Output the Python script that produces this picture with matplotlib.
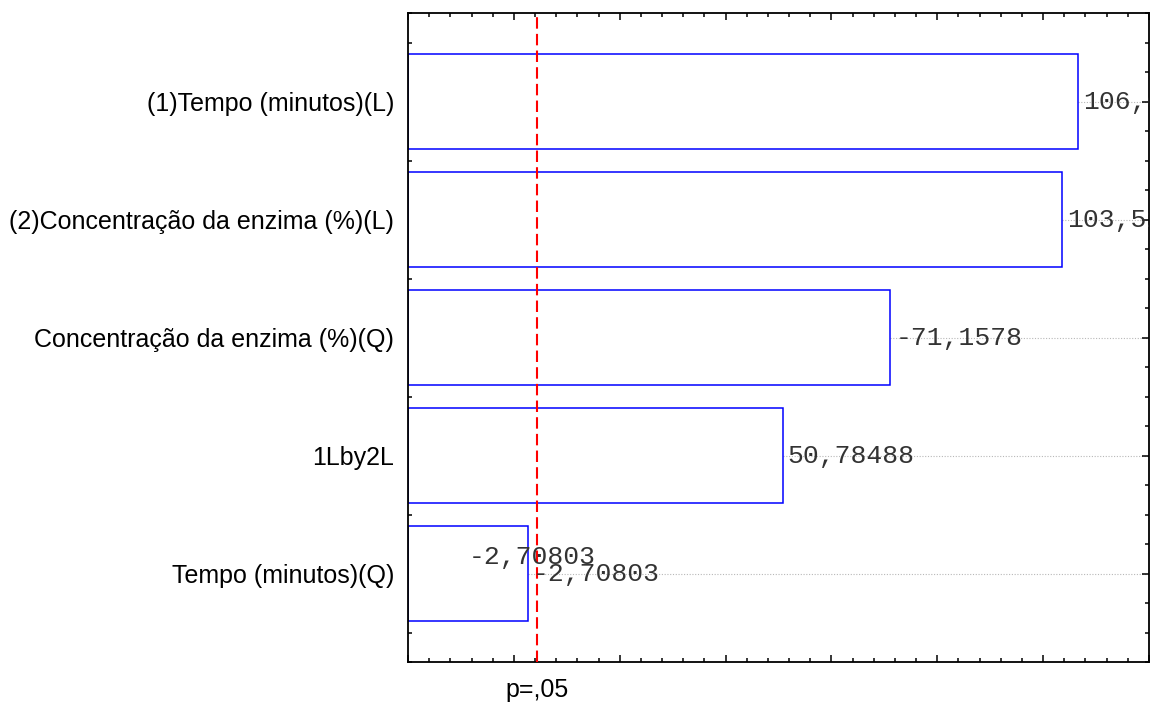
import matplotlib
matplotlib.use("Agg")
import matplotlib.pyplot as plt
from matplotlib.ticker import MultipleLocator
from matplotlib.transforms import blended_transform_factory

categories = [
    "(1)Tempo (minutos)(L)",
    "(2)Concentração da enzima (%)(L)",
    "Concentração da enzima (%)(Q)",
    "1Lby2L",
    "Tempo (minutos)(Q)",
]
effects = [106.6124, 103.5291, -71.1578, 50.78488, -2.70803]
p_critical = 4.303
p_label = "p=,05"
x_min, x_max = -20, 120

fig = plt.figure(figsize=(11.54, 7.06), dpi=100)
ax = fig.add_axes([0.35355, 0.06232, 0.64212, 0.91926])

ypos = list(range(len(categories)))
widths = [abs(v) - x_min for v in effects]
ax.barh(ypos, widths, left=x_min, height=0.8, color="white",
        edgecolor="#0000ff", linewidth=1.1, zorder=2)

mono = "Liberation Mono"
for y, v in zip(ypos, effects):
    end = abs(v)
    ax.plot([end, x_max], [y, y], color="#b8b8b8", lw=0.8, ls=(0, (1, 1.5)), zorder=1)
    txt = f"{v}".replace(".", ",")
    ax.annotate(txt, (end, y), xytext=(3.5, 0), textcoords="offset points",
                ha="left", va="center", fontsize=19, family=mono,
                color="#333333", clip_on=True, zorder=4)

# duplicated label of the smallest effect, drawn inside the bar
v5 = effects[-1]
ax.annotate(f"{v5}".replace(".", ","), (abs(v5), ypos[-1]), xytext=(3, 12),
            textcoords="offset points", ha="center", va="center",
            fontsize=19, family=mono, color="#333333", zorder=4)

ax.axvline(p_critical, color="#ff0000", lw=1.5, ls=(0, (5.5, 2.5)), zorder=3)

ax.set_xlim(x_min, x_max)
ax.set_ylim(len(categories) - 0.25, -0.75)

ax.xaxis.set_major_locator(MultipleLocator(20))
ax.xaxis.set_minor_locator(MultipleLocator(4))
ax.set_xticklabels([])
ax.set_yticks(ypos)
ax.set_yticklabels(categories, fontsize=18, family="Liberation Sans")
ax.yaxis.set_minor_locator(MultipleLocator(0.25))

ax.tick_params(which="both", direction="in", top=True, right=True, color="black")
ax.tick_params(which="major", length=5, width=1.1)
ax.tick_params(which="minor", length=3, width=1.1)
ax.tick_params(axis="y", which="major", pad=10)

for s in ax.spines.values():
    s.set_linewidth(1.3)
    s.set_color("black")

tr = blended_transform_factory(ax.transData, fig.transFigure)
ax.text(p_critical, 1 - 690 / 706, p_label, transform=tr, ha="center",
        va="center", fontsize=18, family="Liberation Sans")

fig.savefig("out.png", dpi=100)
